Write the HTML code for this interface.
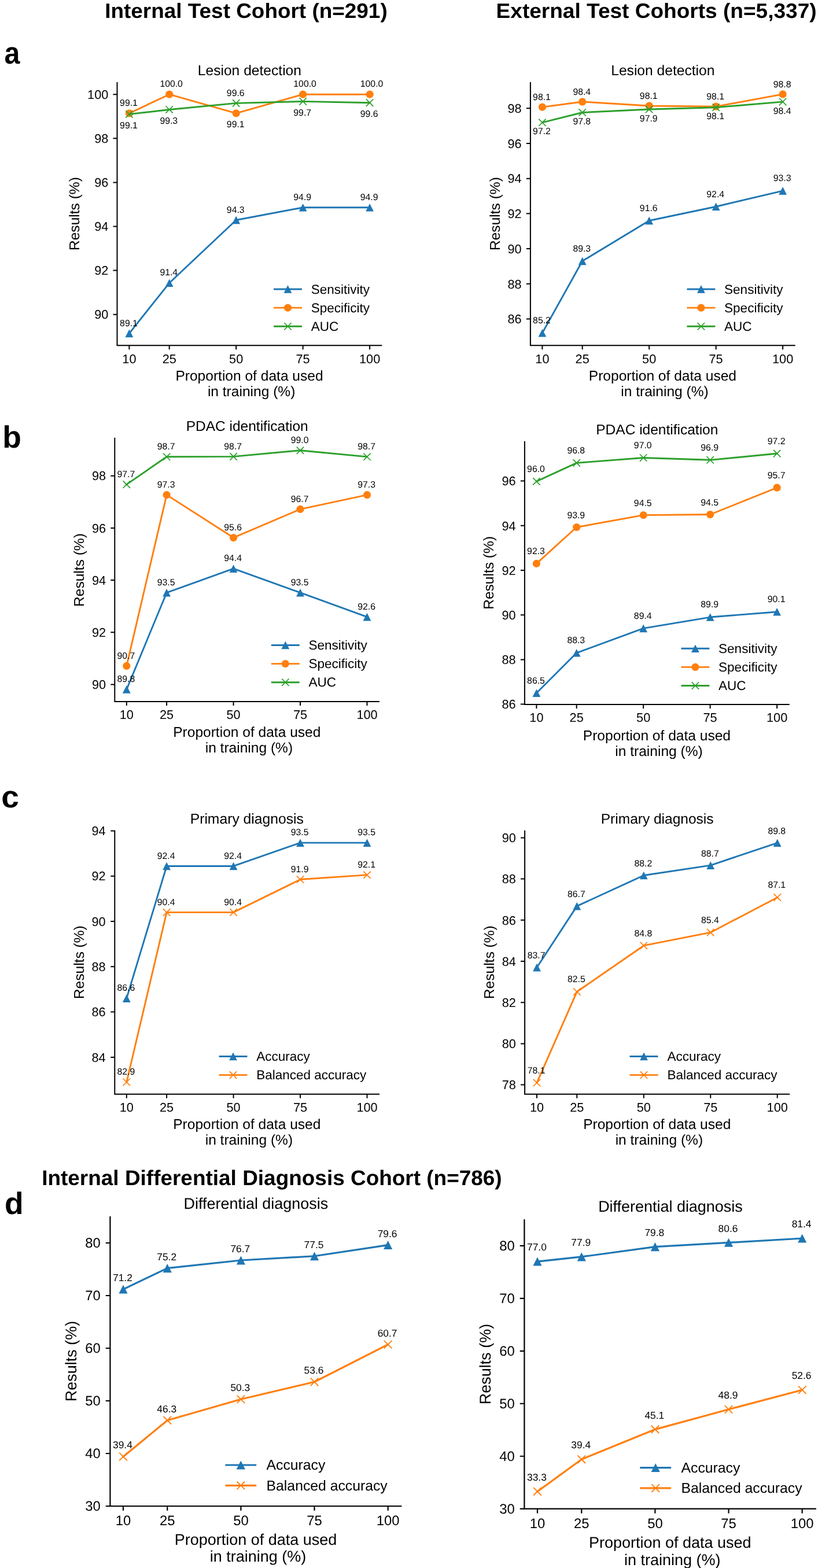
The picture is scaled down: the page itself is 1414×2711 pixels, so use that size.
<!DOCTYPE html>
<html lang="en">
<head>
<meta charset="utf-8">
<title>Model performance versus proportion of training data</title>
<style>
html,body{margin:0;padding:0;background:#fff;}
body{width:1414px;height:2711px;overflow:hidden;font-family:"Liberation Sans", Arial, Helvetica, sans-serif;}
svg{display:block;}
svg text{white-space:pre;}
</style>
</head>
<body>
<svg width="1414" height="2711" viewBox="0 0 1414 2711" font-family='"Liberation Sans", Arial, Helvetica, sans-serif' fill="#000" text-rendering="geometricPrecision">
<rect width="1414" height="2711" fill="#fff"/>
<text x="181.2" y="30.6" font-size="36" font-weight="bold" textLength="488.5" lengthAdjust="spacingAndGlyphs">Internal Test Cohort (n=291)</text>
<text x="857.6" y="31" font-size="36" font-weight="bold" textLength="554" lengthAdjust="spacingAndGlyphs">External Test Cohorts (n=5,337)</text>
<text x="72.2" y="2048.8" font-size="36.7" font-weight="bold" textLength="795.5" lengthAdjust="spacingAndGlyphs">Internal Differential Diagnosis Cohort (n=786)</text>
<text transform="translate(7.6 109.9) scale(0.9 1)" font-size="53.6" font-weight="bold">a</text>
<text transform="translate(4.3 773.6) scale(1 1)" font-size="53.4" font-weight="bold">b</text>
<text transform="translate(2.2 1396) scale(1.03 1)" font-size="53.4" font-weight="bold">c</text>
<text transform="translate(8 2099.3) scale(1 1)" font-size="53.4" font-weight="bold">d</text>
<g>
<text x="431.4" y="129.5" text-anchor="middle" font-size="24.6">Lesion detection</text>
<polyline points="223.4,576.42 292.69,489.29 408.16,380.47 523.63,358.78 639.11,358.78" fill="none" stroke="#1f77b4" stroke-width="2.9" stroke-linejoin="round" stroke-linecap="square"/>
<path d="M223.4 569.52 L216.5 583.22 L230.3 583.22 Z" fill="#1f77b4"/>
<path d="M292.69 482.39 L285.79 496.09 L299.58 496.09 Z" fill="#1f77b4"/>
<path d="M408.16 373.57 L401.26 387.27 L415.06 387.27 Z" fill="#1f77b4"/>
<path d="M523.63 351.88 L516.74 365.58 L530.53 365.58 Z" fill="#1f77b4"/>
<path d="M639.11 351.88 L632.21 365.58 L646.01 365.58 Z" fill="#1f77b4"/>
<polyline points="223.4,195.92 292.69,163.2 408.16,195.92 523.63,163.2 639.11,163.2" fill="none" stroke="#ff7f0e" stroke-width="2.9" stroke-linejoin="round" stroke-linecap="square"/>
<circle cx="223.4" cy="195.92" r="6.6" fill="#ff7f0e"/>
<circle cx="292.69" cy="163.2" r="6.6" fill="#ff7f0e"/>
<circle cx="408.16" cy="195.92" r="6.6" fill="#ff7f0e"/>
<circle cx="523.63" cy="163.2" r="6.6" fill="#ff7f0e"/>
<circle cx="639.11" cy="163.2" r="6.6" fill="#ff7f0e"/>
<polyline points="223.4,197.45 292.69,189.45 408.16,178.42 523.63,175.38 639.11,177.66" fill="none" stroke="#2ca02c" stroke-width="2.9" stroke-linejoin="round" stroke-linecap="square"/>
<path d="M217.2 191.25 L229.6 203.65 M217.2 203.65 L229.6 191.25" fill="none" stroke="#2ca02c" stroke-width="1.7" stroke-linecap="butt"/>
<path d="M286.49 183.25 L298.88 195.65 M286.49 195.65 L298.88 183.25" fill="none" stroke="#2ca02c" stroke-width="1.7" stroke-linecap="butt"/>
<path d="M401.96 172.22 L414.36 184.62 M401.96 184.62 L414.36 172.22" fill="none" stroke="#2ca02c" stroke-width="1.7" stroke-linecap="butt"/>
<path d="M517.43 169.18 L529.84 181.58 M517.43 181.58 L529.84 169.18" fill="none" stroke="#2ca02c" stroke-width="1.7" stroke-linecap="butt"/>
<path d="M632.91 171.46 L645.31 183.86 M632.91 183.86 L645.31 171.46" fill="none" stroke="#2ca02c" stroke-width="1.7" stroke-linecap="butt"/>
<path d="M202.5 141.9 V597.3 H660.3" fill="none" stroke="#000" stroke-width="2" stroke-linecap="butt" stroke-linejoin="miter"/>
<path d="M223.4 597.3 v7 M292.69 597.3 v7 M408.16 597.3 v7 M523.63 597.3 v7 M639.11 597.3 v7 M202.5 543.7 h-7 M202.5 467.6 h-7 M202.5 391.5 h-7 M202.5 315.4 h-7 M202.5 239.3 h-7 M202.5 163.2 h-7" fill="none" stroke="#000" stroke-width="2"/>
<text x="223.4" y="627.5" text-anchor="middle" font-size="21.7">10</text>
<text x="292.69" y="627.5" text-anchor="middle" font-size="21.7">25</text>
<text x="408.16" y="627.5" text-anchor="middle" font-size="21.7">50</text>
<text x="523.63" y="627.5" text-anchor="middle" font-size="21.7">75</text>
<text x="639.11" y="627.5" text-anchor="middle" font-size="21.7">100</text>
<text x="187.3" y="551.4" text-anchor="end" font-size="21.7">90</text>
<text x="187.3" y="475.3" text-anchor="end" font-size="21.7">92</text>
<text x="187.3" y="399.2" text-anchor="end" font-size="21.7">94</text>
<text x="187.3" y="323.1" text-anchor="end" font-size="21.7">96</text>
<text x="187.3" y="247" text-anchor="end" font-size="21.7">98</text>
<text x="187.3" y="170.9" text-anchor="end" font-size="21.7">100</text>
<text x="431" y="658" text-anchor="middle" font-size="24.55">Proportion of data used</text>
<text x="434.6" y="685" text-anchor="middle" font-size="24.55">in training (%)</text>
<text transform="translate(136.7 369.6) rotate(-90)" text-anchor="middle" font-size="24.55">Results (%)</text>
<text x="207.1" y="563.62" font-size="15.8">89.1</text>
<text x="276.38" y="476.49" font-size="15.8">91.4</text>
<text x="391.86" y="367.67" font-size="15.8">94.3</text>
<text x="507.33" y="345.98" font-size="15.8">94.9</text>
<text x="622.81" y="345.98" font-size="15.8">94.9</text>
<text x="207.1" y="183.12" font-size="15.8">99.1</text>
<text x="276.38" y="150.4" font-size="15.8">100.0</text>
<text x="391.86" y="220.22" font-size="15.8">99.1</text>
<text x="507.33" y="150.4" font-size="15.8">100.0</text>
<text x="622.81" y="150.4" font-size="15.8">100.0</text>
<text x="207.1" y="221.75" font-size="15.8">99.1</text>
<text x="276.38" y="213.75" font-size="15.8">99.3</text>
<text x="391.86" y="165.62" font-size="15.8">99.6</text>
<text x="507.33" y="199.68" font-size="15.8">99.7</text>
<text x="622.81" y="201.96" font-size="15.8">99.6</text>
<path d="M474.5 500 H520.5" stroke="#1f77b4" stroke-width="2.9" stroke-linecap="square" fill="none"/>
<path d="M497.5 493.1 L490.6 506.8 L504.4 506.8 Z" fill="#1f77b4"/>
<text x="537.7" y="507.6" font-size="22.5">Sensitivity</text>
<path d="M474.5 532.1 H520.5" stroke="#ff7f0e" stroke-width="2.9" stroke-linecap="square" fill="none"/>
<circle cx="497.5" cy="532.1" r="6.6" fill="#ff7f0e"/>
<text x="537.7" y="539.7" font-size="22.5">Specificity</text>
<path d="M474.5 564.2 H520.5" stroke="#2ca02c" stroke-width="2.9" stroke-linecap="square" fill="none"/>
<path d="M491.3 558 L503.7 570.4 M491.3 570.4 L503.7 558" fill="none" stroke="#2ca02c" stroke-width="1.7" stroke-linecap="butt"/>
<text x="537.7" y="571.8" font-size="22.5">AUC</text>
</g>
<g>
<text x="1145.8" y="129.5" text-anchor="middle" font-size="24.6">Lesion detection</text>
<polyline points="937.4,575.81 1006.68,451.33 1122.16,381.5 1237.63,357.22 1353.11,329.89" fill="none" stroke="#1f77b4" stroke-width="2.9" stroke-linejoin="round" stroke-linecap="square"/>
<path d="M937.4 568.91 L930.5 582.61 L944.3 582.61 Z" fill="#1f77b4"/>
<path d="M1006.68 444.43 L999.78 458.13 L1013.58 458.13 Z" fill="#1f77b4"/>
<path d="M1122.16 374.6 L1115.26 388.3 L1129.06 388.3 Z" fill="#1f77b4"/>
<path d="M1237.63 350.32 L1230.73 364.02 L1244.54 364.02 Z" fill="#1f77b4"/>
<path d="M1353.11 322.99 L1346.21 336.69 L1360.01 336.69 Z" fill="#1f77b4"/>
<polyline points="937.4,185.07 1006.68,175.97 1122.16,182.95 1237.63,184.16 1353.11,162.91" fill="none" stroke="#ff7f0e" stroke-width="2.9" stroke-linejoin="round" stroke-linecap="square"/>
<circle cx="937.4" cy="185.07" r="6.6" fill="#ff7f0e"/>
<circle cx="1006.68" cy="175.97" r="6.6" fill="#ff7f0e"/>
<circle cx="1122.16" cy="182.95" r="6.6" fill="#ff7f0e"/>
<circle cx="1237.63" cy="184.16" r="6.6" fill="#ff7f0e"/>
<circle cx="1353.11" cy="162.91" r="6.6" fill="#ff7f0e"/>
<polyline points="937.4,211.79 1006.68,194.49 1122.16,189.02 1237.63,185.68 1353.11,175.97" fill="none" stroke="#2ca02c" stroke-width="2.9" stroke-linejoin="round" stroke-linecap="square"/>
<path d="M931.2 205.59 L943.6 217.99 M931.2 217.99 L943.6 205.59" fill="none" stroke="#2ca02c" stroke-width="1.7" stroke-linecap="butt"/>
<path d="M1000.48 188.29 L1012.88 200.69 M1000.48 200.69 L1012.88 188.29" fill="none" stroke="#2ca02c" stroke-width="1.7" stroke-linecap="butt"/>
<path d="M1115.96 182.82 L1128.36 195.22 M1115.96 195.22 L1128.36 182.82" fill="none" stroke="#2ca02c" stroke-width="1.7" stroke-linecap="butt"/>
<path d="M1231.43 179.48 L1243.84 191.88 M1231.43 191.88 L1243.84 179.48" fill="none" stroke="#2ca02c" stroke-width="1.7" stroke-linecap="butt"/>
<path d="M1346.91 169.77 L1359.31 182.17 M1346.91 182.17 L1359.31 169.77" fill="none" stroke="#2ca02c" stroke-width="1.7" stroke-linecap="butt"/>
<path d="M916.9 141.9 V597.3 H1374.7" fill="none" stroke="#000" stroke-width="2" stroke-linecap="butt" stroke-linejoin="miter"/>
<path d="M937.4 597.3 v7 M1006.68 597.3 v7 M1122.16 597.3 v7 M1237.63 597.3 v7 M1353.11 597.3 v7 M916.9 551.52 h-7 M916.9 490.8 h-7 M916.9 430.08 h-7 M916.9 369.36 h-7 M916.9 308.64 h-7 M916.9 247.92 h-7 M916.9 187.2 h-7" fill="none" stroke="#000" stroke-width="2"/>
<text x="937.4" y="627.5" text-anchor="middle" font-size="21.7">10</text>
<text x="1006.68" y="627.5" text-anchor="middle" font-size="21.7">25</text>
<text x="1122.16" y="627.5" text-anchor="middle" font-size="21.7">50</text>
<text x="1237.63" y="627.5" text-anchor="middle" font-size="21.7">75</text>
<text x="1353.11" y="627.5" text-anchor="middle" font-size="21.7">100</text>
<text x="901.7" y="559.22" text-anchor="end" font-size="21.7">86</text>
<text x="901.7" y="498.5" text-anchor="end" font-size="21.7">88</text>
<text x="901.7" y="437.78" text-anchor="end" font-size="21.7">90</text>
<text x="901.7" y="377.06" text-anchor="end" font-size="21.7">92</text>
<text x="901.7" y="316.34" text-anchor="end" font-size="21.7">94</text>
<text x="901.7" y="255.62" text-anchor="end" font-size="21.7">96</text>
<text x="901.7" y="194.9" text-anchor="end" font-size="21.7">98</text>
<text x="1145.4" y="658" text-anchor="middle" font-size="24.55">Proportion of data used</text>
<text x="1149" y="685" text-anchor="middle" font-size="24.55">in training (%)</text>
<text transform="translate(864 369.6) rotate(-90)" text-anchor="middle" font-size="24.55">Results (%)</text>
<text x="921.1" y="559.21" font-size="15.8">85.2</text>
<text x="990.38" y="434.73" font-size="15.8">89.3</text>
<text x="1105.86" y="364.9" font-size="15.8">91.6</text>
<text x="1221.34" y="340.62" font-size="15.8">92.4</text>
<text x="1336.81" y="313.29" font-size="15.8">93.3</text>
<text x="921.1" y="172.87" font-size="15.8">98.1</text>
<text x="990.38" y="163.77" font-size="15.8">98.4</text>
<text x="1105.86" y="170.75" font-size="15.8">98.1</text>
<text x="1221.34" y="171.96" font-size="15.8">98.1</text>
<text x="1336.81" y="150.71" font-size="15.8">98.8</text>
<text x="921.1" y="232.39" font-size="15.8">97.2</text>
<text x="990.38" y="215.09" font-size="15.8">97.8</text>
<text x="1105.86" y="209.62" font-size="15.8">97.9</text>
<text x="1221.34" y="206.28" font-size="15.8">98.1</text>
<text x="1336.81" y="196.57" font-size="15.8">98.4</text>
<path d="M1188.9 500 H1234.9" stroke="#1f77b4" stroke-width="2.9" stroke-linecap="square" fill="none"/>
<path d="M1211.9 493.1 L1205 506.8 L1218.8 506.8 Z" fill="#1f77b4"/>
<text x="1252.1" y="507.6" font-size="22.5">Sensitivity</text>
<path d="M1188.9 532.1 H1234.9" stroke="#ff7f0e" stroke-width="2.9" stroke-linecap="square" fill="none"/>
<circle cx="1211.9" cy="532.1" r="6.6" fill="#ff7f0e"/>
<text x="1252.1" y="539.7" font-size="22.5">Specificity</text>
<path d="M1188.9 564.2 H1234.9" stroke="#2ca02c" stroke-width="2.9" stroke-linecap="square" fill="none"/>
<path d="M1205.7 558 L1218.1 570.4 M1205.7 570.4 L1218.1 558" fill="none" stroke="#2ca02c" stroke-width="1.7" stroke-linecap="butt"/>
<text x="1252.1" y="571.8" font-size="22.5">AUC</text>
</g>
<g>
<text x="427.2" y="745.4" text-anchor="middle" font-size="24.5">PDAC identification</text>
<polyline points="218.8,1191.99 288.09,1024.7 403.56,983.22 519.04,1024.7 634.51,1066.64" fill="none" stroke="#1f77b4" stroke-width="2.9" stroke-linejoin="round" stroke-linecap="square"/>
<path d="M218.8 1185.09 L211.9 1198.79 L225.7 1198.79 Z" fill="#1f77b4"/>
<path d="M288.09 1017.8 L281.19 1031.5 L294.99 1031.5 Z" fill="#1f77b4"/>
<path d="M403.56 976.32 L396.66 990.02 L410.46 990.02 Z" fill="#1f77b4"/>
<path d="M519.04 1017.8 L512.14 1031.5 L525.94 1031.5 Z" fill="#1f77b4"/>
<path d="M634.51 1059.74 L627.61 1073.44 L641.41 1073.44 Z" fill="#1f77b4"/>
<polyline points="218.8,1151.41 288.09,855.62 403.56,929.56 519.04,880.42 634.51,855.62" fill="none" stroke="#ff7f0e" stroke-width="2.9" stroke-linejoin="round" stroke-linecap="square"/>
<circle cx="218.8" cy="1151.41" r="6.6" fill="#ff7f0e"/>
<circle cx="288.09" cy="855.62" r="6.6" fill="#ff7f0e"/>
<circle cx="403.56" cy="929.56" r="6.6" fill="#ff7f0e"/>
<circle cx="519.04" cy="880.42" r="6.6" fill="#ff7f0e"/>
<circle cx="634.51" cy="855.62" r="6.6" fill="#ff7f0e"/>
<polyline points="218.8,837.58 288.09,789.78 403.56,789.33 519.04,778.74 634.51,789.78" fill="none" stroke="#2ca02c" stroke-width="2.9" stroke-linejoin="round" stroke-linecap="square"/>
<path d="M212.6 831.38 L225 843.78 M212.6 843.78 L225 831.38" fill="none" stroke="#2ca02c" stroke-width="1.7" stroke-linecap="butt"/>
<path d="M281.89 783.58 L294.29 795.98 M281.89 795.98 L294.29 783.58" fill="none" stroke="#2ca02c" stroke-width="1.7" stroke-linecap="butt"/>
<path d="M397.36 783.13 L409.76 795.53 M397.36 795.53 L409.76 783.13" fill="none" stroke="#2ca02c" stroke-width="1.7" stroke-linecap="butt"/>
<path d="M512.84 772.54 L525.24 784.94 M512.84 784.94 L525.24 772.54" fill="none" stroke="#2ca02c" stroke-width="1.7" stroke-linecap="butt"/>
<path d="M628.31 783.58 L640.71 795.98 M628.31 795.98 L640.71 783.58" fill="none" stroke="#2ca02c" stroke-width="1.7" stroke-linecap="butt"/>
<path d="M198.3 756.8 V1212.9 H656.1" fill="none" stroke="#000" stroke-width="2" stroke-linecap="butt" stroke-linejoin="miter"/>
<path d="M218.8 1212.9 v7 M288.09 1212.9 v7 M403.56 1212.9 v7 M519.04 1212.9 v7 M634.51 1212.9 v7 M198.3 1183.42 h-7 M198.3 1093.24 h-7 M198.3 1003.06 h-7 M198.3 912.88 h-7 M198.3 822.7 h-7" fill="none" stroke="#000" stroke-width="2"/>
<text x="218.8" y="1243.1" text-anchor="middle" font-size="21.7">10</text>
<text x="288.09" y="1243.1" text-anchor="middle" font-size="21.7">25</text>
<text x="403.56" y="1243.1" text-anchor="middle" font-size="21.7">50</text>
<text x="519.04" y="1243.1" text-anchor="middle" font-size="21.7">75</text>
<text x="634.51" y="1243.1" text-anchor="middle" font-size="21.7">100</text>
<text x="183.1" y="1191.12" text-anchor="end" font-size="21.7">90</text>
<text x="183.1" y="1100.94" text-anchor="end" font-size="21.7">92</text>
<text x="183.1" y="1010.76" text-anchor="end" font-size="21.7">94</text>
<text x="183.1" y="920.58" text-anchor="end" font-size="21.7">96</text>
<text x="183.1" y="830.4" text-anchor="end" font-size="21.7">98</text>
<text x="426.8" y="1273.6" text-anchor="middle" font-size="24.55">Proportion of data used</text>
<text x="430.4" y="1300.6" text-anchor="middle" font-size="24.55">in training (%)</text>
<text transform="translate(145.2 985.55) rotate(-90)" text-anchor="middle" font-size="24.55">Results (%)</text>
<text x="202.5" y="1179.19" font-size="15.8">89.8</text>
<text x="271.79" y="1011.9" font-size="15.8">93.5</text>
<text x="387.26" y="970.42" font-size="15.8">94.4</text>
<text x="502.74" y="1011.9" font-size="15.8">93.5</text>
<text x="618.21" y="1053.84" font-size="15.8">92.6</text>
<text x="202.5" y="1138.61" font-size="15.8">90.7</text>
<text x="271.79" y="842.82" font-size="15.8">97.3</text>
<text x="387.26" y="916.76" font-size="15.8">95.6</text>
<text x="502.74" y="867.62" font-size="15.8">96.7</text>
<text x="618.21" y="842.82" font-size="15.8">97.3</text>
<text x="202.5" y="824.78" font-size="15.8">97.7</text>
<text x="271.79" y="776.98" font-size="15.8">98.7</text>
<text x="387.26" y="776.53" font-size="15.8">98.7</text>
<text x="502.74" y="765.94" font-size="15.8">99.0</text>
<text x="618.21" y="776.98" font-size="15.8">98.7</text>
<path d="M470.3 1115.5 H516.3" stroke="#1f77b4" stroke-width="2.9" stroke-linecap="square" fill="none"/>
<path d="M493.3 1108.6 L486.4 1122.3 L500.2 1122.3 Z" fill="#1f77b4"/>
<text x="533.5" y="1123.1" font-size="22.5">Sensitivity</text>
<path d="M470.3 1147.6 H516.3" stroke="#ff7f0e" stroke-width="2.9" stroke-linecap="square" fill="none"/>
<circle cx="493.3" cy="1147.6" r="6.6" fill="#ff7f0e"/>
<text x="533.5" y="1155.2" font-size="22.5">Specificity</text>
<path d="M470.3 1179.7 H516.3" stroke="#2ca02c" stroke-width="2.9" stroke-linecap="square" fill="none"/>
<path d="M487.1 1173.5 L499.5 1185.9 M487.1 1185.9 L499.5 1173.5" fill="none" stroke="#2ca02c" stroke-width="1.7" stroke-linecap="butt"/>
<text x="533.5" y="1187.3" font-size="22.5">AUC</text>
</g>
<g>
<text x="1135.8" y="751.4" text-anchor="middle" font-size="24.5">PDAC identification</text>
<polyline points="927.4,1198.3 996.68,1128.82 1112.16,1086.36 1227.63,1067.06 1343.11,1057.8" fill="none" stroke="#1f77b4" stroke-width="2.9" stroke-linejoin="round" stroke-linecap="square"/>
<path d="M927.4 1191.4 L920.5 1205.1 L934.3 1205.1 Z" fill="#1f77b4"/>
<path d="M996.68 1121.92 L989.78 1135.62 L1003.58 1135.62 Z" fill="#1f77b4"/>
<path d="M1112.16 1079.46 L1105.26 1093.16 L1119.06 1093.16 Z" fill="#1f77b4"/>
<path d="M1227.63 1060.16 L1220.73 1073.86 L1234.54 1073.86 Z" fill="#1f77b4"/>
<path d="M1343.11 1050.9 L1336.21 1064.6 L1350.01 1064.6 Z" fill="#1f77b4"/>
<polyline points="927.4,974.42 996.68,911.5 1112.16,890.66 1227.63,889.5 1343.11,843.18" fill="none" stroke="#ff7f0e" stroke-width="2.9" stroke-linejoin="round" stroke-linecap="square"/>
<circle cx="927.4" cy="974.42" r="6.6" fill="#ff7f0e"/>
<circle cx="996.68" cy="911.5" r="6.6" fill="#ff7f0e"/>
<circle cx="1112.16" cy="890.66" r="6.6" fill="#ff7f0e"/>
<circle cx="1227.63" cy="889.5" r="6.6" fill="#ff7f0e"/>
<circle cx="1343.11" cy="843.18" r="6.6" fill="#ff7f0e"/>
<polyline points="927.4,832.37 996.68,800.33 1112.16,791.46 1227.63,795.32 1343.11,784.12" fill="none" stroke="#2ca02c" stroke-width="2.9" stroke-linejoin="round" stroke-linecap="square"/>
<path d="M921.2 826.17 L933.6 838.57 M921.2 838.57 L933.6 826.17" fill="none" stroke="#2ca02c" stroke-width="1.7" stroke-linecap="butt"/>
<path d="M990.48 794.13 L1002.88 806.53 M990.48 806.53 L1002.88 794.13" fill="none" stroke="#2ca02c" stroke-width="1.7" stroke-linecap="butt"/>
<path d="M1105.96 785.26 L1118.36 797.66 M1105.96 797.66 L1118.36 785.26" fill="none" stroke="#2ca02c" stroke-width="1.7" stroke-linecap="butt"/>
<path d="M1221.43 789.12 L1233.84 801.52 M1221.43 801.52 L1233.84 789.12" fill="none" stroke="#2ca02c" stroke-width="1.7" stroke-linecap="butt"/>
<path d="M1336.91 777.92 L1349.31 790.32 M1336.91 790.32 L1349.31 777.92" fill="none" stroke="#2ca02c" stroke-width="1.7" stroke-linecap="butt"/>
<path d="M906.9 762.8 V1218 H1364.7" fill="none" stroke="#000" stroke-width="2" stroke-linecap="butt" stroke-linejoin="miter"/>
<path d="M927.4 1218 v7 M996.68 1218 v7 M1112.16 1218 v7 M1227.63 1218 v7 M1343.11 1218 v7 M906.9 1217.6 h-7 M906.9 1140.4 h-7 M906.9 1063.2 h-7 M906.9 986 h-7 M906.9 908.8 h-7 M906.9 831.6 h-7" fill="none" stroke="#000" stroke-width="2"/>
<text x="927.4" y="1248.2" text-anchor="middle" font-size="21.7">10</text>
<text x="996.68" y="1248.2" text-anchor="middle" font-size="21.7">25</text>
<text x="1112.16" y="1248.2" text-anchor="middle" font-size="21.7">50</text>
<text x="1227.63" y="1248.2" text-anchor="middle" font-size="21.7">75</text>
<text x="1343.11" y="1248.2" text-anchor="middle" font-size="21.7">100</text>
<text x="891.7" y="1225.3" text-anchor="end" font-size="21.7">86</text>
<text x="891.7" y="1148.1" text-anchor="end" font-size="21.7">88</text>
<text x="891.7" y="1070.9" text-anchor="end" font-size="21.7">90</text>
<text x="891.7" y="993.7" text-anchor="end" font-size="21.7">92</text>
<text x="891.7" y="916.5" text-anchor="end" font-size="21.7">94</text>
<text x="891.7" y="839.3" text-anchor="end" font-size="21.7">96</text>
<text x="1135.4" y="1279.7" text-anchor="middle" font-size="24.55">Proportion of data used</text>
<text x="1139" y="1306.7" text-anchor="middle" font-size="24.55">in training (%)</text>
<text transform="translate(853.4 990.4) rotate(-90)" text-anchor="middle" font-size="24.55">Results (%)</text>
<text x="911.1" y="1181.7" font-size="15.8">86.5</text>
<text x="980.38" y="1112.22" font-size="15.8">88.3</text>
<text x="1095.86" y="1069.76" font-size="15.8">89.4</text>
<text x="1211.34" y="1050.46" font-size="15.8">89.9</text>
<text x="1326.81" y="1041.2" font-size="15.8">90.1</text>
<text x="911.1" y="958.42" font-size="15.8">92.3</text>
<text x="980.38" y="895.5" font-size="15.8">93.9</text>
<text x="1095.86" y="874.66" font-size="15.8">94.5</text>
<text x="1211.34" y="873.5" font-size="15.8">94.5</text>
<text x="1326.81" y="827.18" font-size="15.8">95.7</text>
<text x="911.1" y="816.17" font-size="15.8">96.0</text>
<text x="980.38" y="784.13" font-size="15.8">96.8</text>
<text x="1095.86" y="775.26" font-size="15.8">97.0</text>
<text x="1211.34" y="779.12" font-size="15.8">96.9</text>
<text x="1326.81" y="767.92" font-size="15.8">97.2</text>
<path d="M1178.9 1121.3 H1224.9" stroke="#1f77b4" stroke-width="2.9" stroke-linecap="square" fill="none"/>
<path d="M1201.9 1114.4 L1195 1128.1 L1208.8 1128.1 Z" fill="#1f77b4"/>
<text x="1242.1" y="1128.9" font-size="22.5">Sensitivity</text>
<path d="M1178.9 1153.4 H1224.9" stroke="#ff7f0e" stroke-width="2.9" stroke-linecap="square" fill="none"/>
<circle cx="1201.9" cy="1153.4" r="6.6" fill="#ff7f0e"/>
<text x="1242.1" y="1161" font-size="22.5">Specificity</text>
<path d="M1178.9 1185.5 H1224.9" stroke="#2ca02c" stroke-width="2.9" stroke-linecap="square" fill="none"/>
<path d="M1195.7 1179.3 L1208.1 1191.7 M1195.7 1191.7 L1208.1 1179.3" fill="none" stroke="#2ca02c" stroke-width="1.7" stroke-linecap="butt"/>
<text x="1242.1" y="1193.1" font-size="22.5">AUC</text>
</g>
<g>
<text x="426.8" y="1424.4" text-anchor="middle" font-size="24.7">Primary diagnosis</text>
<polyline points="218.8,1726.11 288.09,1497.47 403.56,1497.47 519.04,1457.15 634.51,1457.15" fill="none" stroke="#1f77b4" stroke-width="2.9" stroke-linejoin="round" stroke-linecap="square"/>
<path d="M218.8 1719.21 L211.9 1732.91 L225.7 1732.91 Z" fill="#1f77b4"/>
<path d="M288.09 1490.57 L281.19 1504.27 L294.99 1504.27 Z" fill="#1f77b4"/>
<path d="M403.56 1490.57 L396.66 1504.27 L410.46 1504.27 Z" fill="#1f77b4"/>
<path d="M519.04 1450.25 L512.14 1463.95 L525.94 1463.95 Z" fill="#1f77b4"/>
<path d="M634.51 1450.25 L627.61 1463.95 L641.41 1463.95 Z" fill="#1f77b4"/>
<polyline points="218.8,1870.96 288.09,1577.34 403.56,1577.34 519.04,1520.57 634.51,1512.74" fill="none" stroke="#ff7f0e" stroke-width="2.9" stroke-linejoin="round" stroke-linecap="square"/>
<path d="M212.6 1864.76 L225 1877.16 M212.6 1877.16 L225 1864.76" fill="none" stroke="#ff7f0e" stroke-width="1.7" stroke-linecap="butt"/>
<path d="M281.89 1571.14 L294.29 1583.54 M281.89 1583.54 L294.29 1571.14" fill="none" stroke="#ff7f0e" stroke-width="1.7" stroke-linecap="butt"/>
<path d="M397.36 1571.14 L409.76 1583.54 M397.36 1583.54 L409.76 1571.14" fill="none" stroke="#ff7f0e" stroke-width="1.7" stroke-linecap="butt"/>
<path d="M512.84 1514.37 L525.24 1526.77 M512.84 1526.77 L525.24 1514.37" fill="none" stroke="#ff7f0e" stroke-width="1.7" stroke-linecap="butt"/>
<path d="M628.31 1506.54 L640.71 1518.94 M628.31 1518.94 L640.71 1506.54" fill="none" stroke="#ff7f0e" stroke-width="1.7" stroke-linecap="butt"/>
<path d="M198.3 1435.8 V1891.7 H656.1" fill="none" stroke="#000" stroke-width="2" stroke-linecap="butt" stroke-linejoin="miter"/>
<path d="M218.8 1891.7 v7 M288.09 1891.7 v7 M403.56 1891.7 v7 M519.04 1891.7 v7 M634.51 1891.7 v7 M198.3 1827.9 h-7 M198.3 1749.6 h-7 M198.3 1671.3 h-7 M198.3 1593 h-7 M198.3 1514.7 h-7 M198.3 1436.4 h-7" fill="none" stroke="#000" stroke-width="2"/>
<text x="218.8" y="1921.9" text-anchor="middle" font-size="21.7">10</text>
<text x="288.09" y="1921.9" text-anchor="middle" font-size="21.7">25</text>
<text x="403.56" y="1921.9" text-anchor="middle" font-size="21.7">50</text>
<text x="519.04" y="1921.9" text-anchor="middle" font-size="21.7">75</text>
<text x="634.51" y="1921.9" text-anchor="middle" font-size="21.7">100</text>
<text x="182.5" y="1835.6" text-anchor="end" font-size="21.7">84</text>
<text x="182.5" y="1757.3" text-anchor="end" font-size="21.7">86</text>
<text x="182.5" y="1679" text-anchor="end" font-size="21.7">88</text>
<text x="182.5" y="1600.7" text-anchor="end" font-size="21.7">90</text>
<text x="182.5" y="1522.4" text-anchor="end" font-size="21.7">92</text>
<text x="182.5" y="1444.1" text-anchor="end" font-size="21.7">94</text>
<text x="426.8" y="1952.4" text-anchor="middle" font-size="24.55">Proportion of data used</text>
<text x="430.4" y="1979.4" text-anchor="middle" font-size="24.55">in training (%)</text>
<text transform="translate(145.4 1663.75) rotate(-90)" text-anchor="middle" font-size="24.55">Results (%)</text>
<text x="202.5" y="1713.31" font-size="15.8">86.6</text>
<text x="271.79" y="1484.67" font-size="15.8">92.4</text>
<text x="387.26" y="1484.67" font-size="15.8">92.4</text>
<text x="502.74" y="1444.35" font-size="15.8">93.5</text>
<text x="618.21" y="1444.35" font-size="15.8">93.5</text>
<text x="202.5" y="1858.16" font-size="15.8">82.9</text>
<text x="271.79" y="1564.54" font-size="15.8">90.4</text>
<text x="387.26" y="1564.54" font-size="15.8">90.4</text>
<text x="502.74" y="1507.77" font-size="15.8">91.9</text>
<text x="618.21" y="1499.94" font-size="15.8">92.1</text>
<path d="M380 1826.5 H426" stroke="#1f77b4" stroke-width="2.9" stroke-linecap="square" fill="none"/>
<path d="M403 1819.6 L396.1 1833.3 L409.9 1833.3 Z" fill="#1f77b4"/>
<text x="443.2" y="1834.1" font-size="22.5">Accuracy</text>
<path d="M380 1858.6 H426" stroke="#ff7f0e" stroke-width="2.9" stroke-linecap="square" fill="none"/>
<path d="M396.8 1852.4 L409.2 1864.8 M396.8 1864.8 L409.2 1852.4" fill="none" stroke="#ff7f0e" stroke-width="1.7" stroke-linecap="butt"/>
<text x="443.2" y="1866.2" font-size="22.5">Balanced accuracy</text>
</g>
<g>
<text x="1136.15" y="1424.4" text-anchor="middle" font-size="24.5">Primary diagnosis</text>
<polyline points="928,1672.68 997.28,1566.59 1112.76,1513.55 1228.24,1496.1 1343.71,1457.3" fill="none" stroke="#1f77b4" stroke-width="2.9" stroke-linejoin="round" stroke-linecap="square"/>
<path d="M928 1665.78 L921.1 1679.48 L934.9 1679.48 Z" fill="#1f77b4"/>
<path d="M997.28 1559.69 L990.38 1573.39 L1004.18 1573.39 Z" fill="#1f77b4"/>
<path d="M1112.76 1506.65 L1105.86 1520.35 L1119.66 1520.35 Z" fill="#1f77b4"/>
<path d="M1228.24 1489.2 L1221.34 1502.9 L1235.14 1502.9 Z" fill="#1f77b4"/>
<path d="M1343.71 1450.4 L1336.81 1464.1 L1350.61 1464.1 Z" fill="#1f77b4"/>
<polyline points="928,1872.04 997.28,1714.69 1112.76,1634.94 1228.24,1612.16 1343.71,1551.64" fill="none" stroke="#ff7f0e" stroke-width="2.9" stroke-linejoin="round" stroke-linecap="square"/>
<path d="M921.8 1865.84 L934.2 1878.24 M921.8 1878.24 L934.2 1865.84" fill="none" stroke="#ff7f0e" stroke-width="1.7" stroke-linecap="butt"/>
<path d="M991.08 1708.49 L1003.49 1720.89 M991.08 1720.89 L1003.49 1708.49" fill="none" stroke="#ff7f0e" stroke-width="1.7" stroke-linecap="butt"/>
<path d="M1106.56 1628.74 L1118.96 1641.14 M1106.56 1641.14 L1118.96 1628.74" fill="none" stroke="#ff7f0e" stroke-width="1.7" stroke-linecap="butt"/>
<path d="M1222.04 1605.96 L1234.44 1618.36 M1222.04 1618.36 L1234.44 1605.96" fill="none" stroke="#ff7f0e" stroke-width="1.7" stroke-linecap="butt"/>
<path d="M1337.51 1545.44 L1349.91 1557.84 M1337.51 1557.84 L1349.91 1545.44" fill="none" stroke="#ff7f0e" stroke-width="1.7" stroke-linecap="butt"/>
<path d="M907.1 1435.8 V1891.7 H1365.2" fill="none" stroke="#000" stroke-width="2" stroke-linecap="butt" stroke-linejoin="miter"/>
<path d="M928 1891.7 v7 M997.28 1891.7 v7 M1112.76 1891.7 v7 M1228.24 1891.7 v7 M1343.71 1891.7 v7 M907.1 1875.6 h-7 M907.1 1804.4 h-7 M907.1 1733.2 h-7 M907.1 1662 h-7 M907.1 1590.8 h-7 M907.1 1519.6 h-7 M907.1 1448.4 h-7" fill="none" stroke="#000" stroke-width="2"/>
<text x="928" y="1921.9" text-anchor="middle" font-size="21.7">10</text>
<text x="997.28" y="1921.9" text-anchor="middle" font-size="21.7">25</text>
<text x="1112.76" y="1921.9" text-anchor="middle" font-size="21.7">50</text>
<text x="1228.24" y="1921.9" text-anchor="middle" font-size="21.7">75</text>
<text x="1343.71" y="1921.9" text-anchor="middle" font-size="21.7">100</text>
<text x="891.9" y="1883.3" text-anchor="end" font-size="21.7">78</text>
<text x="891.9" y="1812.1" text-anchor="end" font-size="21.7">80</text>
<text x="891.9" y="1740.9" text-anchor="end" font-size="21.7">82</text>
<text x="891.9" y="1669.7" text-anchor="end" font-size="21.7">84</text>
<text x="891.9" y="1598.5" text-anchor="end" font-size="21.7">86</text>
<text x="891.9" y="1527.3" text-anchor="end" font-size="21.7">88</text>
<text x="891.9" y="1456.1" text-anchor="end" font-size="21.7">90</text>
<text x="1135.75" y="1952.4" text-anchor="middle" font-size="24.55">Proportion of data used</text>
<text x="1139.35" y="1979.4" text-anchor="middle" font-size="24.55">in training (%)</text>
<text transform="translate(853.6 1663.75) rotate(-90)" text-anchor="middle" font-size="24.55">Results (%)</text>
<text x="911.7" y="1657.08" font-size="15.8">83.7</text>
<text x="980.99" y="1550.99" font-size="15.8">86.7</text>
<text x="1096.46" y="1497.95" font-size="15.8">88.2</text>
<text x="1211.94" y="1480.5" font-size="15.8">88.7</text>
<text x="1327.41" y="1441.7" font-size="15.8">89.8</text>
<text x="911.7" y="1855.64" font-size="15.8">78.1</text>
<text x="980.99" y="1698.29" font-size="15.8">82.5</text>
<text x="1096.46" y="1618.54" font-size="15.8">84.8</text>
<text x="1211.94" y="1595.76" font-size="15.8">85.4</text>
<text x="1327.41" y="1535.24" font-size="15.8">87.1</text>
<path d="M1090 1826.5 H1136" stroke="#1f77b4" stroke-width="2.9" stroke-linecap="square" fill="none"/>
<path d="M1113 1819.6 L1106.1 1833.3 L1119.9 1833.3 Z" fill="#1f77b4"/>
<text x="1153.4" y="1834.1" font-size="22.5">Accuracy</text>
<path d="M1090 1858.6 H1136" stroke="#ff7f0e" stroke-width="2.9" stroke-linecap="square" fill="none"/>
<path d="M1106.8 1852.4 L1119.2 1864.8 M1106.8 1864.8 L1119.2 1852.4" fill="none" stroke="#ff7f0e" stroke-width="1.7" stroke-linecap="butt"/>
<text x="1153.4" y="1866.2" font-size="22.5">Balanced accuracy</text>
</g>
<g>
<text x="442.4" y="2090.46" text-anchor="middle" font-size="26.95">Differential diagnosis</text>
<polyline points="213,2229.08 289.27,2192.68 416.4,2179.03 543.52,2171.75 670.65,2152.64" fill="none" stroke="#1f77b4" stroke-width="3.19" stroke-linejoin="round" stroke-linecap="square"/>
<path d="M213 2221.49 L205.41 2236.56 L220.59 2236.56 Z" fill="#1f77b4"/>
<path d="M289.27 2185.09 L281.69 2200.16 L296.86 2200.16 Z" fill="#1f77b4"/>
<path d="M416.4 2171.44 L408.81 2186.51 L423.99 2186.51 Z" fill="#1f77b4"/>
<path d="M543.52 2164.16 L535.93 2179.23 L551.12 2179.23 Z" fill="#1f77b4"/>
<path d="M670.65 2145.05 L663.06 2160.12 L678.24 2160.12 Z" fill="#1f77b4"/>
<polyline points="213,2518.46 289.27,2455.67 416.4,2419.27 543.52,2389.24 670.65,2324.63" fill="none" stroke="#ff7f0e" stroke-width="3.19" stroke-linejoin="round" stroke-linecap="square"/>
<path d="M206.18 2511.64 L219.82 2525.28 M206.18 2525.28 L219.82 2511.64" fill="none" stroke="#ff7f0e" stroke-width="1.87" stroke-linecap="butt"/>
<path d="M282.45 2448.85 L296.09 2462.49 M282.45 2462.49 L296.09 2448.85" fill="none" stroke="#ff7f0e" stroke-width="1.87" stroke-linecap="butt"/>
<path d="M409.58 2412.45 L423.22 2426.09 M409.58 2426.09 L423.22 2412.45" fill="none" stroke="#ff7f0e" stroke-width="1.87" stroke-linecap="butt"/>
<path d="M536.7 2382.42 L550.35 2396.06 M536.7 2396.06 L550.35 2382.42" fill="none" stroke="#ff7f0e" stroke-width="1.87" stroke-linecap="butt"/>
<path d="M663.83 2317.81 L677.47 2331.45 M663.83 2331.45 L677.47 2317.81" fill="none" stroke="#ff7f0e" stroke-width="1.87" stroke-linecap="butt"/>
<path d="M190.4 2103 V2604 H694.4" fill="none" stroke="#000" stroke-width="2.2" stroke-linecap="butt" stroke-linejoin="miter"/>
<path d="M213 2604 v7.7 M289.27 2604 v7.7 M416.4 2604 v7.7 M543.52 2604 v7.7 M670.65 2604 v7.7 M190.4 2604 h-7.7 M190.4 2513 h-7.7 M190.4 2422 h-7.7 M190.4 2331 h-7.7 M190.4 2240 h-7.7 M190.4 2149 h-7.7" fill="none" stroke="#000" stroke-width="2.2"/>
<text x="213" y="2637.22" text-anchor="middle" font-size="23.87">10</text>
<text x="289.27" y="2637.22" text-anchor="middle" font-size="23.87">25</text>
<text x="416.4" y="2637.22" text-anchor="middle" font-size="23.87">50</text>
<text x="543.52" y="2637.22" text-anchor="middle" font-size="23.87">75</text>
<text x="670.65" y="2637.22" text-anchor="middle" font-size="23.87">100</text>
<text x="173.68" y="2612.47" text-anchor="end" font-size="23.87">30</text>
<text x="173.68" y="2521.47" text-anchor="end" font-size="23.87">40</text>
<text x="173.68" y="2430.47" text-anchor="end" font-size="23.87">50</text>
<text x="173.68" y="2339.47" text-anchor="end" font-size="23.87">60</text>
<text x="173.68" y="2248.47" text-anchor="end" font-size="23.87">70</text>
<text x="173.68" y="2157.47" text-anchor="end" font-size="23.87">80</text>
<text x="442" y="2670.77" text-anchor="middle" font-size="27.01">Proportion of data used</text>
<text x="445.96" y="2700.47" text-anchor="middle" font-size="27.01">in training (%)</text>
<text transform="translate(132.21 2353.5) rotate(-90)" text-anchor="middle" font-size="27.01">Results (%)</text>
<text x="195.07" y="2215" font-size="17.38">71.2</text>
<text x="271.34" y="2178.6" font-size="17.38">75.2</text>
<text x="398.47" y="2164.95" font-size="17.38">76.7</text>
<text x="525.6" y="2157.67" font-size="17.38">77.5</text>
<text x="652.72" y="2138.56" font-size="17.38">79.6</text>
<text x="195.07" y="2504.38" font-size="17.38">39.4</text>
<text x="271.34" y="2441.59" font-size="17.38">46.3</text>
<text x="398.47" y="2405.19" font-size="17.38">50.3</text>
<text x="525.6" y="2375.16" font-size="17.38">53.6</text>
<text x="652.72" y="2310.55" font-size="17.38">60.7</text>
<path d="M391 2533 H441.6" stroke="#1f77b4" stroke-width="3.19" stroke-linecap="square" fill="none"/>
<path d="M416.3 2525.41 L408.71 2540.48 L423.89 2540.48 Z" fill="#1f77b4"/>
<text x="460.6" y="2541.36" font-size="24.75">Accuracy</text>
<path d="M391 2568.3 H441.6" stroke="#ff7f0e" stroke-width="3.19" stroke-linecap="square" fill="none"/>
<path d="M409.48 2561.48 L423.12 2575.12 M409.48 2575.12 L423.12 2561.48" fill="none" stroke="#ff7f0e" stroke-width="1.87" stroke-linecap="butt"/>
<text x="460.6" y="2576.66" font-size="24.75">Balanced accuracy</text>
</g>
<g>
<text x="1158.95" y="2094.77" text-anchor="middle" font-size="26.95">Differential diagnosis</text>
<polyline points="929,2181.14 1005.27,2172.95 1132.4,2155.67 1259.53,2148.39 1386.65,2141.11" fill="none" stroke="#1f77b4" stroke-width="3.19" stroke-linejoin="round" stroke-linecap="square"/>
<path d="M929 2173.55 L921.41 2188.62 L936.59 2188.62 Z" fill="#1f77b4"/>
<path d="M1005.27 2165.36 L997.68 2180.43 L1012.87 2180.43 Z" fill="#1f77b4"/>
<path d="M1132.4 2148.08 L1124.81 2163.15 L1139.99 2163.15 Z" fill="#1f77b4"/>
<path d="M1259.53 2140.8 L1251.94 2155.87 L1267.12 2155.87 Z" fill="#1f77b4"/>
<path d="M1386.65 2133.52 L1379.06 2148.59 L1394.24 2148.59 Z" fill="#1f77b4"/>
<polyline points="929,2578.68 1005.27,2523.19 1132.4,2471.34 1259.53,2436.77 1386.65,2403.11" fill="none" stroke="#ff7f0e" stroke-width="3.19" stroke-linejoin="round" stroke-linecap="square"/>
<path d="M922.18 2571.86 L935.82 2585.5 M922.18 2585.5 L935.82 2571.86" fill="none" stroke="#ff7f0e" stroke-width="1.87" stroke-linecap="butt"/>
<path d="M998.45 2516.37 L1012.1 2530.01 M998.45 2530.01 L1012.1 2516.37" fill="none" stroke="#ff7f0e" stroke-width="1.87" stroke-linecap="butt"/>
<path d="M1125.58 2464.52 L1139.22 2478.16 M1125.58 2478.16 L1139.22 2464.52" fill="none" stroke="#ff7f0e" stroke-width="1.87" stroke-linecap="butt"/>
<path d="M1252.71 2429.95 L1266.35 2443.59 M1252.71 2443.59 L1266.35 2429.95" fill="none" stroke="#ff7f0e" stroke-width="1.87" stroke-linecap="butt"/>
<path d="M1379.83 2396.29 L1393.47 2409.93 M1379.83 2409.93 L1393.47 2396.29" fill="none" stroke="#ff7f0e" stroke-width="1.87" stroke-linecap="butt"/>
<path d="M906.4 2108.3 V2608.7 H1410.9" fill="none" stroke="#000" stroke-width="2.2" stroke-linecap="butt" stroke-linejoin="miter"/>
<path d="M929 2608.7 v7.7 M1005.27 2608.7 v7.7 M1132.4 2608.7 v7.7 M1259.53 2608.7 v7.7 M1386.65 2608.7 v7.7 M906.4 2608.7 h-7.7 M906.4 2517.73 h-7.7 M906.4 2426.76 h-7.7 M906.4 2335.79 h-7.7 M906.4 2244.82 h-7.7 M906.4 2153.85 h-7.7" fill="none" stroke="#000" stroke-width="2.2"/>
<text x="929" y="2641.92" text-anchor="middle" font-size="23.87">10</text>
<text x="1005.27" y="2641.92" text-anchor="middle" font-size="23.87">25</text>
<text x="1132.4" y="2641.92" text-anchor="middle" font-size="23.87">50</text>
<text x="1259.53" y="2641.92" text-anchor="middle" font-size="23.87">75</text>
<text x="1386.65" y="2641.92" text-anchor="middle" font-size="23.87">100</text>
<text x="889.68" y="2617.17" text-anchor="end" font-size="23.87">30</text>
<text x="889.68" y="2526.2" text-anchor="end" font-size="23.87">40</text>
<text x="889.68" y="2435.23" text-anchor="end" font-size="23.87">50</text>
<text x="889.68" y="2344.26" text-anchor="end" font-size="23.87">60</text>
<text x="889.68" y="2253.29" text-anchor="end" font-size="23.87">70</text>
<text x="889.68" y="2162.32" text-anchor="end" font-size="23.87">80</text>
<text x="1158.25" y="2676.35" text-anchor="middle" font-size="27.01">Proportion of data used</text>
<text x="1162.21" y="2706.05" text-anchor="middle" font-size="27.01">in training (%)</text>
<text transform="translate(847.66 2358.5) rotate(-90)" text-anchor="middle" font-size="27.01">Results (%)</text>
<text x="911.07" y="2162.33" font-size="17.38">77.0</text>
<text x="987.35" y="2154.14" font-size="17.38">77.9</text>
<text x="1114.47" y="2136.86" font-size="17.38">79.8</text>
<text x="1241.6" y="2129.58" font-size="17.38">80.6</text>
<text x="1368.72" y="2122.3" font-size="17.38">81.4</text>
<text x="911.07" y="2559.87" font-size="17.38">33.3</text>
<text x="987.35" y="2504.38" font-size="17.38">39.4</text>
<text x="1114.47" y="2452.53" font-size="17.38">45.1</text>
<text x="1241.6" y="2417.96" font-size="17.38">48.9</text>
<text x="1368.72" y="2384.3" font-size="17.38">52.6</text>
<path d="M1107.9 2537.6 H1158.5" stroke="#1f77b4" stroke-width="3.19" stroke-linecap="square" fill="none"/>
<path d="M1133.2 2530.01 L1125.61 2545.08 L1140.79 2545.08 Z" fill="#1f77b4"/>
<text x="1177.5" y="2545.96" font-size="24.75">Accuracy</text>
<path d="M1107.9 2572.9 H1158.5" stroke="#ff7f0e" stroke-width="3.19" stroke-linecap="square" fill="none"/>
<path d="M1126.38 2566.08 L1140.02 2579.72 M1126.38 2579.72 L1140.02 2566.08" fill="none" stroke="#ff7f0e" stroke-width="1.87" stroke-linecap="butt"/>
<text x="1177.5" y="2581.26" font-size="24.75">Balanced accuracy</text>
</g>
</svg>
</body>
</html>
